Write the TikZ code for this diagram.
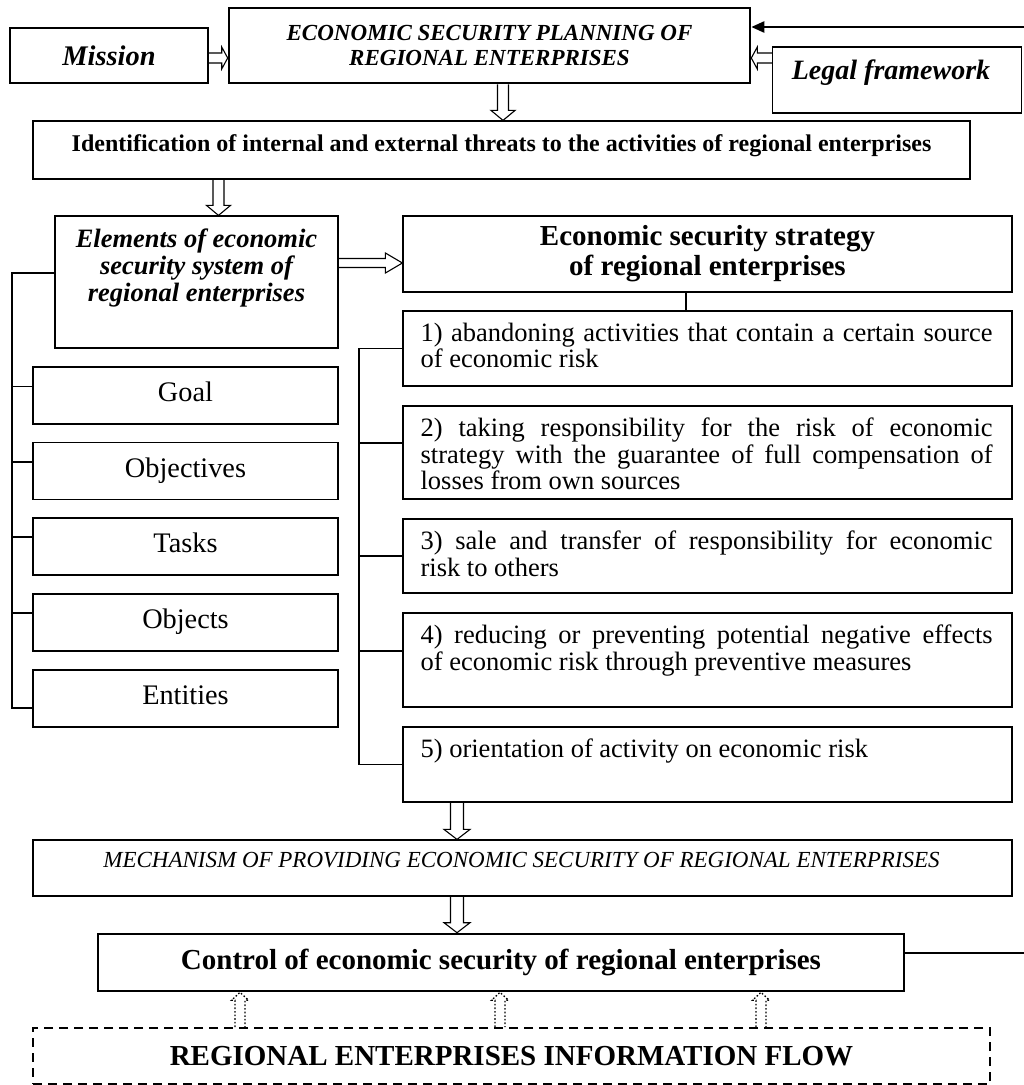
\documentclass[tikz,border=0pt]{standalone}
\usepackage{fontspec}
\setmainfont{Liberation Serif}
\usetikzlibrary{calc,arrows.meta}
\setlength{\parindent}{0pt}
\hyphenpenalty=10000
\exhyphenpenalty=10000
\newcommand\fsz[2]{\fontsize{#1}{#2}\selectfont}
% hollow block arrows: [style]{start}{tip}{shaft half}{head half}{head length}
\newcommand\ArrDown[6][]{\draw[harrow,#1] let \p1=(#2), \p2=(#3) in
  (\x2-#4,\y1) -- (\x2-#4,\y2+#6) -- (\x2-#5,\y2+#6) -- (\x2,\y2) -- (\x2+#5,\y2+#6) -- (\x2+#4,\y2+#6) -- (\x2+#4,\y1);}
\newcommand\ArrUp[6][]{\draw[harrow,#1] let \p1=(#2), \p2=(#3) in
  (\x2-#4,\y1) -- (\x2-#4,\y2-#6) -- (\x2-#5,\y2-#6) -- (\x2,\y2) -- (\x2+#5,\y2-#6) -- (\x2+#4,\y2-#6) -- (\x2+#4,\y1);}
\newcommand\ArrRight[6][]{\draw[harrow,#1] let \p1=(#2), \p2=(#3) in
  (\x1,\y2+#4) -- (\x2-#6,\y2+#4) -- (\x2-#6,\y2+#5) -- (\x2,\y2) -- (\x2-#6,\y2-#5) -- (\x2-#6,\y2-#4) -- (\x1,\y2-#4);}
\newcommand\ArrLeft[6][]{\draw[harrow,#1] let \p1=(#2), \p2=(#3) in
  (\x1,\y2+#4) -- (\x2+#6,\y2+#4) -- (\x2+#6,\y2+#5) -- (\x2,\y2) -- (\x2+#6,\y2-#5) -- (\x2+#6,\y2-#4) -- (\x1,\y2-#4);}
\tikzset{
  box/.style={draw, line width=1.2pt, inner sep=0pt},
  heavybox/.style={draw, line width=2.6pt, inner sep=0pt},
  dashbox/.style={draw, line width=2pt, dash pattern=on 9pt off 6pt, inner sep=0pt},
  harrow/.style={line width=1.1pt, line join=miter},
  darrow/.style={line width=1.3pt, dash pattern=on 1.6pt off 2pt},
  conn/.style={line width=1.2pt},
  fb/.style={line width=2.4pt},
  itembox/.style={box, minimum width=305pt, minimum height=57pt, font=\fsz{28.3}{30}, text height=19.8pt, text depth=7pt},
  rbox/.style={box, minimum width=609pt},
  rtext/.style={text width=572pt, align=justify, inner sep=0pt, anchor=north west, font=\fsz{26.5}{26.5}},
}
\begin{document}
\begin{tikzpicture}[x=1pt,y=-1pt]
\useasboundingbox (0,0) rectangle (1024,1085);

% top row
\node[box, minimum width=198pt, minimum height=55pt, font=\fsz{28.4}{30}\bfseries\itshape] (mission) at (109,55.5) {Mission};
\node[heavybox, minimum width=521pt, minimum height=75pt, align=center, font=\fsz{23}{25}\bfseries\itshape] (plan) at (489.5,45.5) {ECONOMIC SECURITY PLANNING OF\\REGIONAL ENTERPRISES};
\node[box, minimum width=249pt, minimum height=66pt] (legal) at (897,80) {};
\node[anchor=base, inner sep=0pt, font=\fsz{28}{30}\bfseries\itshape] (legalt) at (891,79.5) {Legal framework};

% identification
\node[box, minimum width=937pt, minimum height=58pt] (ident) at (501.5,150) {};
\node[anchor=base, inner sep=0pt, font=\fsz{24}{26}\bfseries] (identt) at (501.5,151) {Identification of internal and external threats to the activities of regional enterprises};

% elements
\node[box, minimum width=283pt, minimum height=132pt] (elem) at (196.5,282) {};
\node[anchor=north, inner sep=0pt, align=center, font=\fsz{26.5}{27}\bfseries\itshape] (elemt) at (196.5,228.5) {Elements of economic\\security system of\\regional enterprises};

% strategy
\node[box, minimum width=609pt, minimum height=76pt, align=center, font=\fsz{29}{30}\bfseries] (strat) at (707.5,254) {Economic security strategy\\of regional enterprises};

% left items
\node[itembox] (goal) at (185.5,395.5) {Goal};
\node[itembox] (objv) at (185.5,471) {Objectives};
\node[itembox] (task) at (185.5,546.5) {Tasks};
\node[itembox] (objs) at (185.5,622.5) {Objects};
\node[itembox] (ent)  at (185.5,698.5) {Entities};

% right items
\node[rbox, minimum height=75pt] (r1) at (707.5,348.5) {};
\node[rbox, minimum height=93pt] (r2) at (707.5,452.5) {};
\node[rbox, minimum height=74pt] (r3) at (707.5,556) {};
\node[rbox, minimum height=94pt] (r4) at (707.5,660) {};
\node[rbox, minimum height=75pt] (r5) at (707.5,764.5) {};
\node[rtext] (r1t) at ([xshift=18pt,yshift=-12.5pt]r1.north west) {1) abandoning activities that contain a certain source\linebreak of economic risk};
\node[rtext] (r2t) at ([xshift=18pt,yshift=-12.5pt]r2.north west) {2) taking responsibility for the risk of economic\linebreak strategy with the guarantee of full compensation of\linebreak losses from own sources};
\node[rtext] (r3t) at ([xshift=18pt,yshift=-12.5pt]r3.north west) {3) sale and transfer of responsibility for economic\linebreak risk to others};
\node[rtext] (r4t) at ([xshift=18pt,yshift=-12.5pt]r4.north west) {4) reducing or preventing potential negative effects\linebreak of economic risk through preventive measures};
\node[rtext] (r5t) at ([xshift=18pt,yshift=-12.5pt]r5.north west) {5) orientation of activity on economic risk};

% mechanism, control, information flow
\node[box, minimum width=979pt, minimum height=56pt] (mech) at (522.5,868) {};
\node[anchor=base, inner sep=0pt, font=\fsz{23}{25}\itshape] (mecht) at (521.5,867.5) {MECHANISM OF PROVIDING ECONOMIC SECURITY OF REGIONAL ENTERPRISES};
\node[heavybox, minimum width=806pt, minimum height=57pt, font=\fsz{29}{30}\bfseries] (ctrl) at (501,962.5) {Control of economic security of regional enterprises};
\node[dashbox, minimum width=957pt, minimum height=56pt, font=\fsz{29}{30}\bfseries] (info) at (511.5,1056) {REGIONAL ENTERPRISES INFORMATION FLOW};

% helper coordinates
\coordinate (lbus) at (12,0);
\coordinate (rbus) at (359,0);
\coordinate (sx) at (686,0);
\coordinate (yM) at (0,58);
\coordinate (yE) at (0,263);
\coordinate (xA) at (503,0);
\coordinate (xB) at (218.5,0);
\coordinate (xC) at (457,0);
\coordinate (d1) at (240,0);
\coordinate (d2) at (500,0);
\coordinate (d3) at (761,0);
\coordinate (e0) at ([yshift=9pt]elem.west);
\coordinate (g1) at ([yshift=9pt]goal.west);
\coordinate (g2) at ([yshift=9pt]objv.west);
\coordinate (g3) at ([yshift=9.5pt]task.west);
\coordinate (g4) at ([yshift=9.5pt]objs.west);
\coordinate (g5) at ([yshift=-9.5pt]ent.west);
\coordinate (s2) at ([yshift=9.5pt]r2.west);
\coordinate (s4) at ([yshift=9pt]r4.west);
\coordinate (f1) at ([yshift=9.5pt]ctrl.east);
\coordinate (f2) at ([yshift=18.5pt]plan.east);

% left tree
\draw[conn] (e0) -| (g5 -| lbus) -- (g5);
\foreach \g in {g1,g2,g3,g4} \draw[conn] (\g) -- (\g -| lbus);
% right tree
\draw[conn] (r1.west) -| (r5.west -| rbus) -- (r5.west);
\draw[conn] (s2) -- (s2 -| rbus);
\draw[conn] (r3.west) -- (r3.west -| rbus);
\draw[conn] (s4) -- (s4 -| rbus);
\draw[conn] (strat.south -| sx) -- (r1.north -| sx);

% hollow arrows
\ArrRight{mission.east |- yM}{plan.west |- yM}{5pt}{11pt}{6pt}
\ArrLeft{legal.west |- yM}{plan.east |- yM}{5pt}{11pt}{6pt}
\ArrDown{plan.south -| xA}{ident.north -| xA}{5.5pt}{12pt}{10pt}
\ArrDown{ident.south -| xB}{elem.north -| xB}{5.5pt}{12pt}{10pt}
\ArrRight{elem.east |- yE}{strat.west |- yE}{4.5pt}{10pt}{17pt}
\ArrDown{r5.south -| xC}{mech.north -| xC}{6.5pt}{13pt}{10pt}
\ArrDown{mech.south -| xC}{ctrl.north -| xC}{6.5pt}{13pt}{10pt}
\ArrUp[darrow]{info.north -| d1}{ctrl.south -| d1}{5pt}{8.5pt}{8pt}
\ArrUp[darrow]{info.north -| d2}{ctrl.south -| d2}{5pt}{8.5pt}{8pt}
\ArrUp[darrow]{info.north -| d3}{ctrl.south -| d3}{5pt}{8.5pt}{8pt}

% feedback line
\draw[fb, -{Triangle[length=13pt,width=11pt]}] (f1) -- ++(126,0) |- (f2);
\end{tikzpicture}
\end{document}
